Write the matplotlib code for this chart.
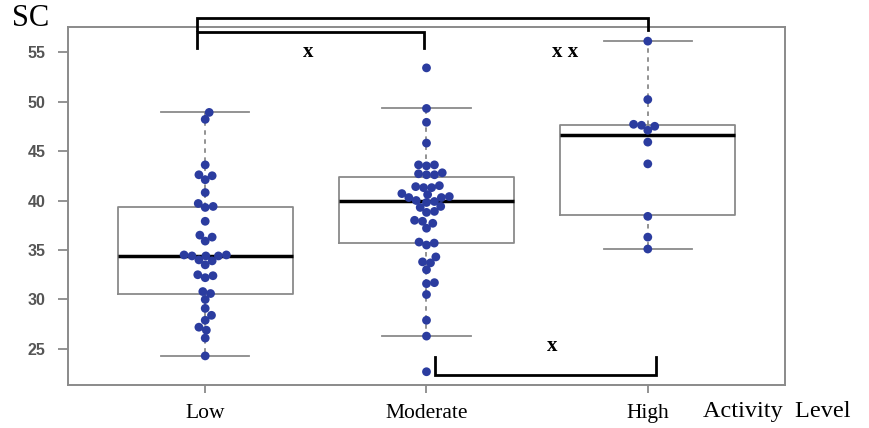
import matplotlib
matplotlib.use('Agg')
import matplotlib.pyplot as plt
import numpy as np

# SC values per activity level
groups = ['Low', 'Moderate', 'High']
low = [48.9, 48.2, 43.6, 42.6, 42.5, 42.1, 40.8, 39.7, 39.4, 39.3, 37.9, 36.5,
       36.3, 35.9, 34.5, 34.5, 34.4, 34.4, 34.4, 34.0, 33.9, 33.5, 32.5, 32.4,
       32.2, 30.8, 30.6, 30.0, 29.1, 28.4, 27.9, 27.2, 26.9, 26.1, 24.3]
moderate = [53.4, 49.3, 47.9, 45.8, 43.6, 43.6, 43.5, 42.8, 42.7, 42.6, 42.6,
            41.5, 41.4, 41.3, 41.3, 40.7, 40.6, 40.4, 40.3, 40.3, 40.0, 39.9,
            39.8, 39.4, 39.3, 38.9, 38.8, 38.0, 37.9, 37.7, 37.2, 35.8, 35.7,
            35.5, 34.3, 33.8, 33.7, 33.0, 31.7, 31.6, 30.5, 27.9, 26.3, 22.7]
high = [56.1, 50.2, 47.7, 47.6, 47.5, 47.1, 45.9, 43.7, 38.4, 36.3, 35.1]

# box statistics as drawn
box_med = [34.4, 40.0, 46.6]
box_q1 = [30.6, 35.7, 38.5]
box_q3 = [39.3, 42.4, 47.6]
whisk_lo = [24.3, 26.3, 35.1]
whisk_hi = [48.9, 49.3, 56.1]

yticks = [25, 30, 35, 40, 45, 50, 55]

# significance brackets: (x1, x2, y of bar, y of ends, label x, label y, label)
brackets = [(0.964, 3.0, 58.45, 57.2, None, None, None),
            (0.964, 1.99, 57.0, 55.4, 1.465, 55.0, 'x'),
            (2.04, 3.036, 22.4, 24.2, 2.57, 25.3, 'x')]
extra_label = (2.625, 55.0, 'x x')

fig = plt.figure(figsize=(8.7, 4.28), dpi=100)
ax = fig.add_axes([68/870, 1-385/428, (785-68)/870, (385-27)/428])

# boxes
stats = []
for i in range(3):
    stats.append(dict(med=box_med[i], q1=box_q1[i], q3=box_q3[i],
                      whislo=whisk_lo[i], whishi=whisk_hi[i], fliers=[]))
gray = '#8a8a8a'
ax.bxp(stats, positions=[1, 2, 3], widths=0.79, capwidths=0.4,
       showfliers=False,
       boxprops=dict(color=gray, linewidth=1.3),
       medianprops=dict(color='black', linewidth=2.5),
       whiskerprops=dict(color=gray, linewidth=1.3, linestyle=(0, (2.5, 2.5))),
       capprops=dict(color=gray, linewidth=1.3), zorder=1)

# simple swarm layout in pixel space
xpx, ypx, d = 221.5, 9.9, 8.0

def swarm(vals):
    placed = []
    offs = {}
    for k in np.argsort(vals):
        yp = vals[k] * ypx
        cands = [0.0]
        for xj, yj in placed:
            dy = yp - yj
            if abs(dy) < d:
                dx = np.sqrt(d*d - dy*dy)
                cands += [xj + dx, xj - dx]
        cands.sort(key=abs)
        for c in cands:
            if all((c-xj)**2 + (yp-yj)**2 >= d*d - 1e-6 for xj, yj in placed):
                break
        placed.append((c, yp))
        offs[k] = c / xpx
    return np.array([offs[k] for k in range(len(vals))])

for i, vals in enumerate([low, moderate, high]):
    vals = np.array(vals)
    ax.scatter(i + 1 + swarm(vals), vals, s=40, color='#2b3c9f',
               edgecolors='none', zorder=3)

ax.set_xlim(0.38, 3.62)
ax.set_ylim(21.36, 57.53)
ax.set_yticks(yticks)
ax.set_yticklabels([str(t) for t in yticks], fontweight='bold', color='#555555',
                   fontsize=11.5, family='Liberation Sans')
ax.set_xticks([1, 2, 3])
ax.set_xticklabels(groups, family='Liberation Serif', fontsize=15.5)
ax.tick_params(axis='y', length=7, width=1.3, color=gray, pad=9)
ax.tick_params(axis='x', length=6, width=1.3, color=gray, pad=8)
for s in ax.spines.values():
    s.set_color(gray)
    s.set_linewidth(1.4)

# brackets
for x1, x2, yb, ye, lx, ly, lab in brackets:
    ax.plot([x1, x1, x2, x2], [ye, yb, yb, ye], color='black', linewidth=2,
            clip_on=False, zorder=4, solid_joinstyle='miter')
    if lab:
        ax.text(lx, ly, lab, ha='center', va='center', fontsize=15,
                fontweight='bold', family='Liberation Serif')
ax.text(extra_label[0], extra_label[1], extra_label[2], ha='center',
        va='center', fontsize=15, fontweight='bold', family='Liberation Serif')

fig.text(12/870, 1-19/428, 'SC', family='Liberation Serif', fontsize=22,
         va='center', ha='left')
fig.text(703/870, 1-412/428, 'Activity  Level', family='Liberation Serif',
         fontsize=17.5, va='center', ha='left')

fig.savefig('out.png', dpi=100)
